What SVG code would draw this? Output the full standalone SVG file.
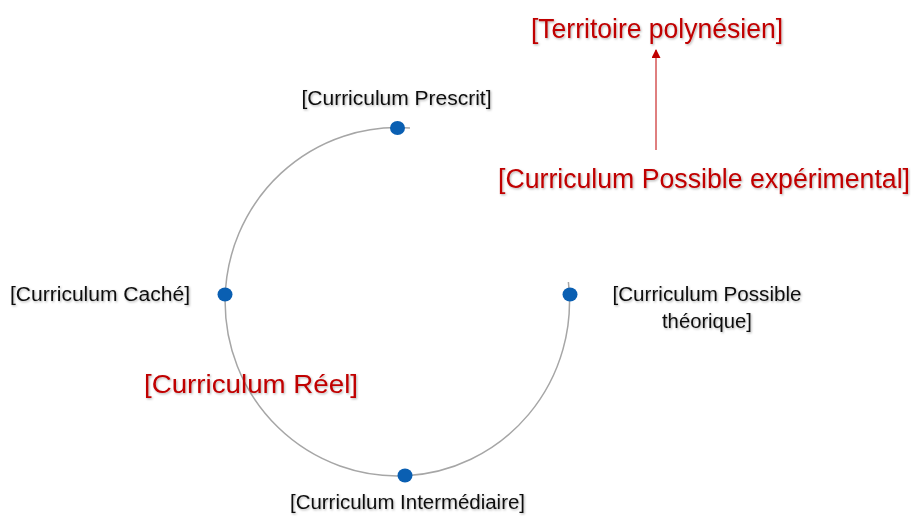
<svg xmlns="http://www.w3.org/2000/svg" width="915" height="517" viewBox="0 0 915 517">
<defs>
<filter id="sh" x="-5%" y="-20%" width="110%" height="150%">
<feDropShadow dx="1" dy="1.2" stdDeviation="0.9" flood-color="#000" flood-opacity="0.3"/>
</filter>
<marker id="ah" viewBox="0 0 10 10" refX="9" refY="5" markerWidth="10" markerHeight="9" markerUnits="userSpaceOnUse" orient="auto">
<path d="M0,0 L10,5 L0,10 z" fill="#c00000"/>
</marker>
</defs>
<style>
text{font-family:"Liberation Sans",Arial,sans-serif;filter:url(#sh)}
.blk{fill:#111;font-size:19.5px}
.red{fill:#c00000;font-size:28px}
.dot{fill:#0a5fb2}
.arc{fill:none;stroke:#a6a6a6;stroke-width:1.5}
</style>
<rect width="915" height="517" fill="#fff"/>
<g id="connectors">
<path class="arc" d="M410,128 A172.2 174.2 0 1 0 568.4,282"/>
<line x1="656" y1="150" x2="656" y2="50" stroke="#c00000" stroke-width="1" marker-end="url(#ah)"/>
</g>
<g id="node-prescrit">
<ellipse class="dot" cx="397.5" cy="128" rx="7.5" ry="7"/>
<text class="blk" x="396.5" y="104.5" text-anchor="middle" textLength="190" lengthAdjust="spacingAndGlyphs">[Curriculum Prescrit]</text>
</g>
<g id="node-cache">
<ellipse class="dot" cx="225" cy="294.5" rx="7.5" ry="7"/>
<text class="blk" x="100" y="300.5" text-anchor="middle" textLength="180" lengthAdjust="spacingAndGlyphs">[Curriculum Caché]</text>
</g>
<g id="node-possible-theorique">
<ellipse class="dot" cx="570" cy="294.5" rx="7.5" ry="7"/>
<text class="blk" x="707" y="301" text-anchor="middle" textLength="189" lengthAdjust="spacingAndGlyphs">[Curriculum Possible</text>
<text class="blk" x="707" y="328" text-anchor="middle" textLength="90" lengthAdjust="spacingAndGlyphs">théorique]</text>
</g>
<g id="node-intermediaire">
<ellipse class="dot" cx="405" cy="475.5" rx="7.5" ry="7"/>
<text class="blk" x="407.5" y="508.5" text-anchor="middle" textLength="235" lengthAdjust="spacingAndGlyphs">[Curriculum Intermédiaire]</text>
</g>
<g id="node-reel">
<text class="red" x="251" y="393" text-anchor="middle" style="font-size:26px" textLength="214" lengthAdjust="spacingAndGlyphs">[Curriculum Réel]</text>
</g>
<g id="node-possible-experimental">
<text class="red" x="704" y="188" text-anchor="middle" style="font-size:27px" textLength="412" lengthAdjust="spacingAndGlyphs">[Curriculum Possible expérimental]</text>
</g>
<g id="node-territoire">
<text class="red" x="657" y="37.5" text-anchor="middle" textLength="252" lengthAdjust="spacingAndGlyphs">[Territoire polynésien]</text>
</g>
</svg>
